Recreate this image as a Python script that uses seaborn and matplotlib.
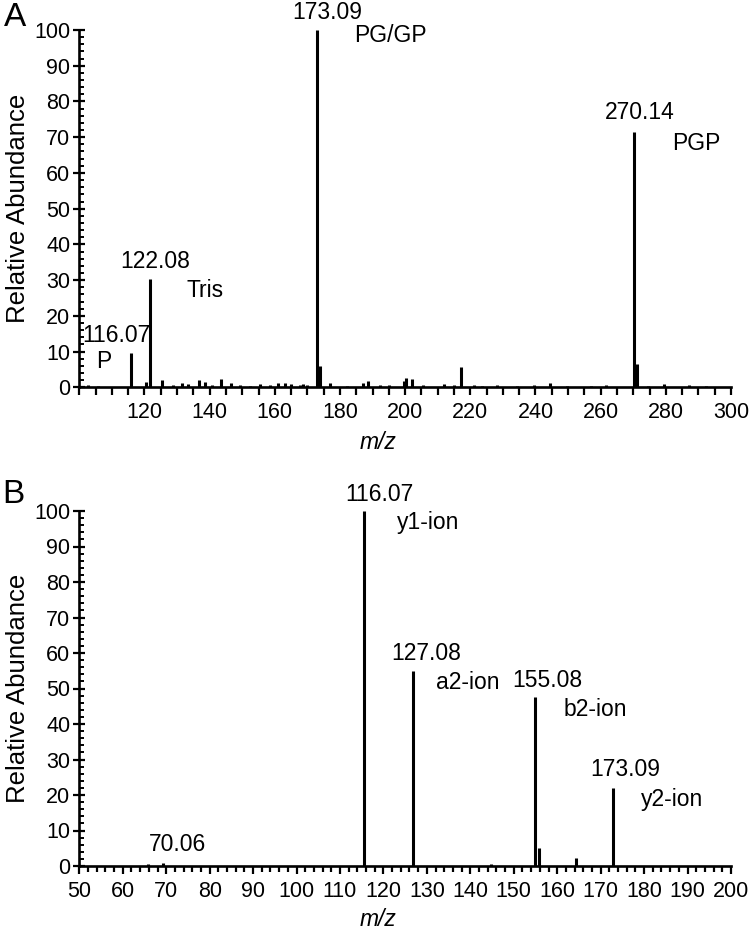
import numpy as np
import pandas as pd
import matplotlib
matplotlib.use("Agg")
import matplotlib.pyplot as plt
from matplotlib.ticker import MultipleLocator, FixedLocator
import seaborn as sns

# ---------------- data: panel A ----------------
a_peak_mz = [115.8, 121.6, 172.9, 270.2]
a_peak_int = [9.7, 30.3, 100.0, 71.5]
a_peak_text = ["116.07", "122.08", "173.09", "270.14"]
a_peak_name = ["P", "Tris", "PG/GP", "PGP"]

a_minor_mz = [102.6, 105.6, 120.5, 125.4, 128.7, 131.6, 133.4, 136.7, 138.5, 140.8,
              143.6, 146.7, 149.2, 152.3, 155.4, 158.5, 161.0, 163.1, 165.1, 167.7,
              168.7, 169.9, 173.8, 176.9, 182.1, 187.2, 188.7, 192.3, 194.9, 199.5,
              200.3, 202.2, 205.6, 211.8, 214.9, 217.1, 221.0, 223.6, 228.2, 234.4,
              239.5, 244.4, 249.8, 256.9, 261.5, 271.2, 274.4, 279.5, 287.2, 292.3]
a_minor_int = [0.6, 0.4, 1.4, 2.1, 0.6, 1.3, 0.9, 2.1, 1.5, 0.7,
               2.2, 1.1, 0.7, 0.5, 0.9, 0.6, 1.3, 1.3, 0.9, 0.7,
               0.9, 0.7, 6.1, 1.3, 0.5, 1.1, 1.9, 0.6, 0.6, 1.9,
               2.6, 2.3, 0.6, 0.9, 0.7, 5.6, 0.6, 0.5, 0.6, 0.5,
               0.6, 1.3, 0.4, 0.4, 0.6, 6.4, 0.4, 0.9, 0.6, 0.4]

# ---------------- data: panel B ----------------
b_peak_mz = [69.3, 115.6, 126.9, 154.8, 172.9]
b_peak_int = [0.8, 100.0, 55.0, 47.6, 22.0]
b_peak_text = ["70.06", "116.07", "127.08", "155.08", "173.09"]
b_peak_name = ["", "y1-ion", "a2-ion", "b2-ion", "y2-ion"]

b_minor_mz = [65.8, 144.8, 155.9, 164.4]
b_minor_int = [0.6, 0.5, 5.0, 2.3]

a_xticks = list(range(120, 301, 20))


def stems(mz, inten):
    rows = []
    for i, (m, h) in enumerate(zip(mz, inten)):
        rows.append({"mz": m, "intensity": 0.0, "peak": i})
        rows.append({"mz": m, "intensity": h, "peak": i})
    return pd.DataFrame(rows)


sns.set_theme(style="ticks")
plt.rcParams["font.family"] = ["Liberation Sans", "DejaVu Sans"]

fig = plt.figure(figsize=(7.56, 9.32), dpi=100)
W, H = 756.0, 932.0
axA = fig.add_axes([79.3 / W, 1 - 387.3 / H, (731.0 - 79.3) / W, (387.3 - 30.0) / H])
axB = fig.add_axes([79.3 / W, 1 - 866.0 / H, (731.0 - 79.3) / W, (866.0 - 511.0) / H])

PX = 0.72  # points per pixel


def draw(ax, mz_all, int_all):
    df = stems(mz_all, int_all)
    sns.lineplot(data=df, x="mz", y="intensity", units="peak", estimator=None,
                 sort=False, color="black", linewidth=2.2, legend=False, ax=ax,
                 solid_capstyle="butt")


def style(ax, xlim, major, minor_step, xmin_minor, xlab_y):
    ax.set_xlim(*xlim)
    ax.set_ylim(0, 100)
    ax.xaxis.set_major_locator(major)
    ax.xaxis.set_minor_locator(MultipleLocator(minor_step))
    ax.yaxis.set_major_locator(MultipleLocator(10))
    ax.yaxis.set_minor_locator(MultipleLocator(2))
    sns.despine(ax=ax)
    for s in ["left", "bottom"]:
        ax.spines[s].set_linewidth(1.9)
        ax.spines[s].set_color("black")
    ax.tick_params(axis="x", which="major", direction="out", length=5.5, width=1.6,
                   labelsize=15.5, pad=5, colors="black")
    ax.tick_params(axis="x", which="minor", direction="out", length=xmin_minor, width=1.6,
                   colors="black")
    ax.tick_params(axis="y", which="major", direction="inout", length=9, width=1.6,
                   labelsize=15.5, pad=2, colors="black")
    ax.tick_params(axis="y", which="minor", direction="in", length=3.5, width=1.4,
                   colors="black")
    ax.set_xlabel("m/z", fontsize=16.5, style="italic", color="black")
    ax.set_ylabel("Relative Abundance", fontsize=18.5, color="black")
    ax.xaxis.set_label_coords(0.458, xlab_y)
    ax.yaxis.set_label_coords(-0.075, 0.5)
    ax.grid(False)


def annotate(ax, xs, ys, nums, names, num_dx, num_dy, name_dx, name_dy):
    for i, (x, y, t, n) in enumerate(zip(xs, ys, nums, names)):
        ax.annotate(t, xy=(x, y), xytext=(num_dx[i] * PX, num_dy[i] * PX),
                    textcoords="offset points", ha="center", va="center",
                    fontsize=16.5, color="black", annotation_clip=False)
        if n:
            ha = "center" if name_dx[i] < 0 else "left"
            ax.annotate(n, xy=(x, y), xytext=(name_dx[i] * PX, name_dy[i] * PX),
                        textcoords="offset points", ha=ha, va="center",
                        fontsize=16.5, color="black", annotation_clip=False)


# Panel A
draw(axA, a_peak_mz + a_minor_mz, a_peak_int + a_minor_int)
style(axA, (100, 300), FixedLocator(a_xticks), 5, 5.5, -0.122)
annotate(axA, a_peak_mz, a_peak_int, a_peak_text, a_peak_name,
         num_dx=[-14, 6, 10, 6], num_dy=[17, 18, 18, 19],
         name_dx=[-27, 37, 37, 38], name_dy=[-9, -11, -5, -12])

# Panel B
draw(axB, b_peak_mz + b_minor_mz, b_peak_int + b_minor_int)
style(axB, (50, 200), MultipleLocator(10), 2, 4, -0.118)
annotate(axB, b_peak_mz, b_peak_int, b_peak_text, b_peak_name,
         num_dx=[14, 15, 13, 13, 12], num_dy=[19, 17, 17, 17, 18],
         name_dx=[0, 33, 23, 29, 28], name_dy=[0, -12, -12, -12, -12])

fig.text(14.7 / W, 1 - 17 / H, "A", fontsize=24, ha="center", va="center", color="black")
fig.text(13 / W, 1 - 494 / H, "B", fontsize=24, ha="center", va="center", color="black")

fig.savefig("out.png", dpi=100)
